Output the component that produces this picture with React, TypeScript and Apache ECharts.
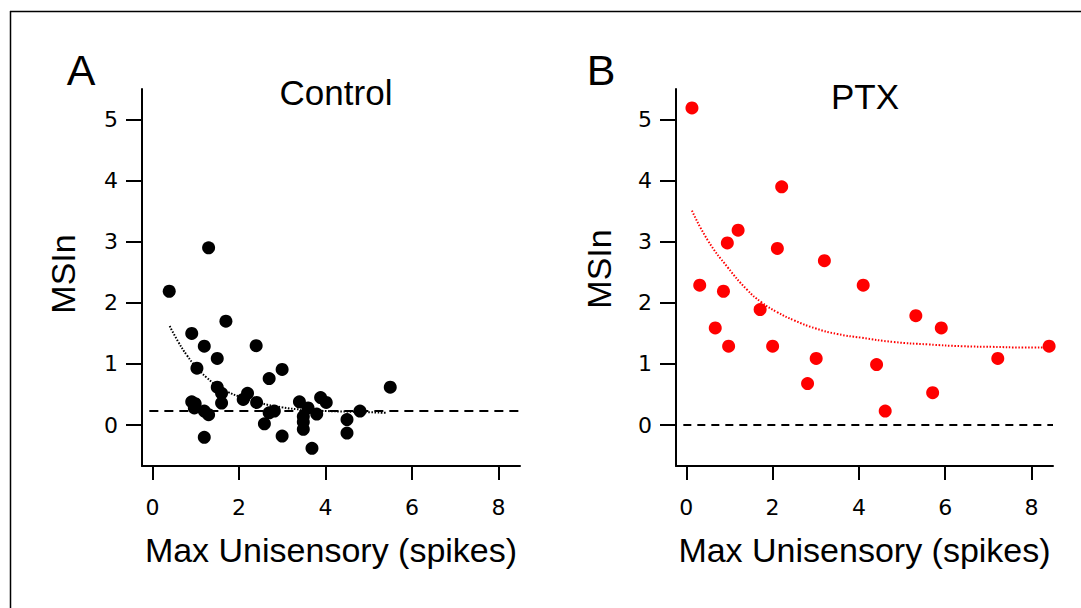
import React, { useEffect, useRef } from "react";
import * as echarts from "echarts";

// Tick values / labels
const xTicks = [0, 2, 4, 6, 8];
const yTicks = [0, 1, 2, 3, 4, 5];

// Panel A: Control
const controlX = [0.39, 1.3, 0.91, 1.2, 1.7, 1.5, 2.4, 1.03, 3.0, 2.7, 1.5, 1.6, 1.6, 2.2, 2.1, 2.41, 0.91, 0.99, 0.97, 1.2, 1.3, 1.2, 2.59, 2.7, 2.82, 3.0, 3.4, 3.6, 3.49, 3.49, 3.49, 3.8, 3.69, 3.89, 4.02, 4.5, 4.5, 4.8, 5.5];
const controlY = [2.19, 2.9, 1.5, 1.29, 1.7, 1.09, 1.3, 0.93, 0.91, 0.76, 0.62, 0.52, 0.36, 0.52, 0.42, 0.37, 0.38, 0.35, 0.28, 0.23, 0.17, -0.2, 0.02, 0.2, 0.23, -0.18, 0.38, 0.28, 0.14, 0.05, -0.07, 0.18, -0.38, 0.45, 0.37, 0.09, -0.13, 0.23, 0.62];
const controlFitX = [0.4, 0.6, 0.8, 1.0, 1.25, 1.5, 1.75, 2.0, 2.5, 3.0, 3.5, 4.0, 4.5, 5.0, 5.4];
const controlFitY = [1.62, 1.36, 1.14, 0.96, 0.78, 0.64, 0.54, 0.47, 0.36, 0.29, 0.25, 0.23, 0.22, 0.21, 0.2];
const controlBaseline = 0.23;

// Panel B: PTX
const ptxX = [0.13, 0.31, 0.67, 0.86, 0.95, 0.98, 1.2, 1.71, 2.0, 2.11, 2.21, 2.81, 3.01, 3.2, 4.1, 4.41, 4.61, 5.32, 5.71, 5.91, 7.22, 8.41];
const ptxY = [5.19, 2.29, 1.59, 2.19, 2.98, 1.29, 3.19, 1.89, 1.29, 2.89, 3.9, 0.68, 1.09, 2.69, 2.29, 0.99, 0.23, 1.79, 0.53, 1.59, 1.09, 1.29];
const ptxFitX = [0.13, 0.5, 0.96, 1.4, 1.74, 2.1, 2.51, 3.0, 3.5, 4.05, 4.8, 5.6, 6.4, 7.1, 7.8, 8.4];
const ptxFitY = [3.51, 3.02, 2.58, 2.22, 2.01, 1.85, 1.71, 1.58, 1.49, 1.43, 1.36, 1.32, 1.29, 1.28, 1.27, 1.27];
const ptxBaseline = 0;

const baselineX = [-0.07, 8.5];

const zip = (xs: number[], ys: number[]) => xs.map((x, i) => [x, ys[i]]);

const TICK_FONT = "DejaVu Sans";
const NAME_FONT = "Liberation Sans";

const labelFor = (ticks: number[]) => (v: number) =>
  ticks.some((t) => Math.abs(t - v) < 1e-6) ? String(Math.round(v)) : "";

function makeXAxis(gridIndex: number) {
  return {
    type: "value",
    gridIndex,
    min: -0.24,
    max: 8.5,
    splitLine: { show: false },
    axisLine: { show: true, onZero: false, lineStyle: { color: "#000", width: 2 } },
    axisTick: { show: true, customValues: xTicks, length: 14, lineStyle: { color: "#000", width: 2 } },
    axisLabel: {
      show: true,
      formatter: labelFor(xTicks),
      margin: 30,
      color: "#000",
      fontSize: 22,
      fontFamily: TICK_FONT,
    },
    name: "Max Unisensory (spikes)",
    nameLocation: "middle",
    nameGap: 67,
    nameTextStyle: { color: "#000", fontSize: 34, fontFamily: NAME_FONT },
  };
}

function makeYAxis(gridIndex: number, gap: number, pad: number) {
  return {
    type: "value",
    gridIndex,
    min: -0.67,
    max: 5.5,
    splitLine: { show: false },
    axisLine: { show: true, onZero: false, lineStyle: { color: "#000", width: 2 } },
    axisTick: { show: true, customValues: yTicks, length: 16, lineStyle: { color: "#000", width: 2 } },
    axisLabel: {
      show: true,
      formatter: labelFor(yTicks),
      margin: 24,
      color: "#000",
      fontSize: 22,
      fontFamily: TICK_FONT,
    },
    name: "MSIn",
    nameLocation: "middle",
    nameRotate: 90,
    nameGap: gap,
    nameTextStyle: { color: "#000", fontSize: 34, fontFamily: NAME_FONT, padding: [0, 0, 0, pad] },
  };
}

export default function App() {
  const ref = useRef<HTMLDivElement>(null);
  useEffect(() => {
    if (!ref.current) return;
    const chart = echarts.init(ref.current, undefined, { renderer: "svg" });
    chart.setOption({
      animation: false,
      backgroundColor: "#fff",
      grid: [
        { left: 142, top: 89, width: 378, height: 377 },
        { left: 676, top: 89, width: 377, height: 377 },
      ],
      xAxis: [makeXAxis(0), makeXAxis(1)],
      yAxis: [makeYAxis(0, 62, 7), makeYAxis(1, 60, 17)],
      graphic: [
        { type: "line", shape: { x1: 10, y1: 11.5, x2: 1081, y2: 11.5 }, style: { stroke: "#000", lineWidth: 1.5 } },
        { type: "line", shape: { x1: 10.5, y1: 11, x2: 10.5, y2: 608 }, style: { stroke: "#000", lineWidth: 1.5 } },
        { type: "text", x: 81, y: 70, style: { text: "A", fill: "#000", font: `43px '${NAME_FONT}'`, textAlign: "center", textVerticalAlign: "middle" } },
        { type: "text", x: 601, y: 70, style: { text: "B", fill: "#000", font: `43px '${NAME_FONT}'`, textAlign: "center", textVerticalAlign: "middle" } },
        { type: "text", x: 336, y: 92, style: { text: "Control", fill: "#000", font: `35px '${NAME_FONT}'`, textAlign: "center", textVerticalAlign: "middle" } },
        { type: "text", x: 865, y: 96, style: { text: "PTX", fill: "#000", font: `35px '${NAME_FONT}'`, textAlign: "center", textVerticalAlign: "middle" } },
      ],
      series: [
        {
          type: "line", xAxisIndex: 0, yAxisIndex: 0, symbol: "none", silent: true, z: 1,
          data: zip(baselineX, baselineX.map(() => controlBaseline)),
          lineStyle: { color: "#000", width: 2, type: [9, 6] },
        },
        {
          type: "line", xAxisIndex: 0, yAxisIndex: 0, symbol: "none", silent: true, smooth: true, z: 2,
          data: zip(controlFitX, controlFitY),
          lineStyle: { color: "#000", width: 2, type: [1.5, 1.6] },
        },
        {
          type: "scatter", xAxisIndex: 0, yAxisIndex: 0, symbol: "circle", symbolSize: 13, z: 3,
          data: zip(controlX, controlY),
          itemStyle: { color: "#000", opacity: 1 },
        },
        {
          type: "line", xAxisIndex: 1, yAxisIndex: 1, symbol: "none", silent: true, z: 1,
          data: zip(baselineX, baselineX.map(() => ptxBaseline)),
          lineStyle: { color: "#000", width: 2, type: [8, 6] },
        },
        {
          type: "line", xAxisIndex: 1, yAxisIndex: 1, symbol: "none", silent: true, smooth: true, z: 2,
          data: zip(ptxFitX, ptxFitY),
          lineStyle: { color: "#ff0000", width: 2, type: [1.5, 1.7] },
        },
        {
          type: "scatter", xAxisIndex: 1, yAxisIndex: 1, symbol: "circle", symbolSize: 13, z: 3,
          data: zip(ptxX, ptxY),
          itemStyle: { color: "#ff0000", opacity: 1 },
        },
      ],
    });
    return () => chart.dispose();
  }, []);
  return (
    <div
      ref={ref}
      style={{ position: "absolute", left: 0, top: 0, width: 1081, height: 608, background: "#fff" }}
    />
  );
}
